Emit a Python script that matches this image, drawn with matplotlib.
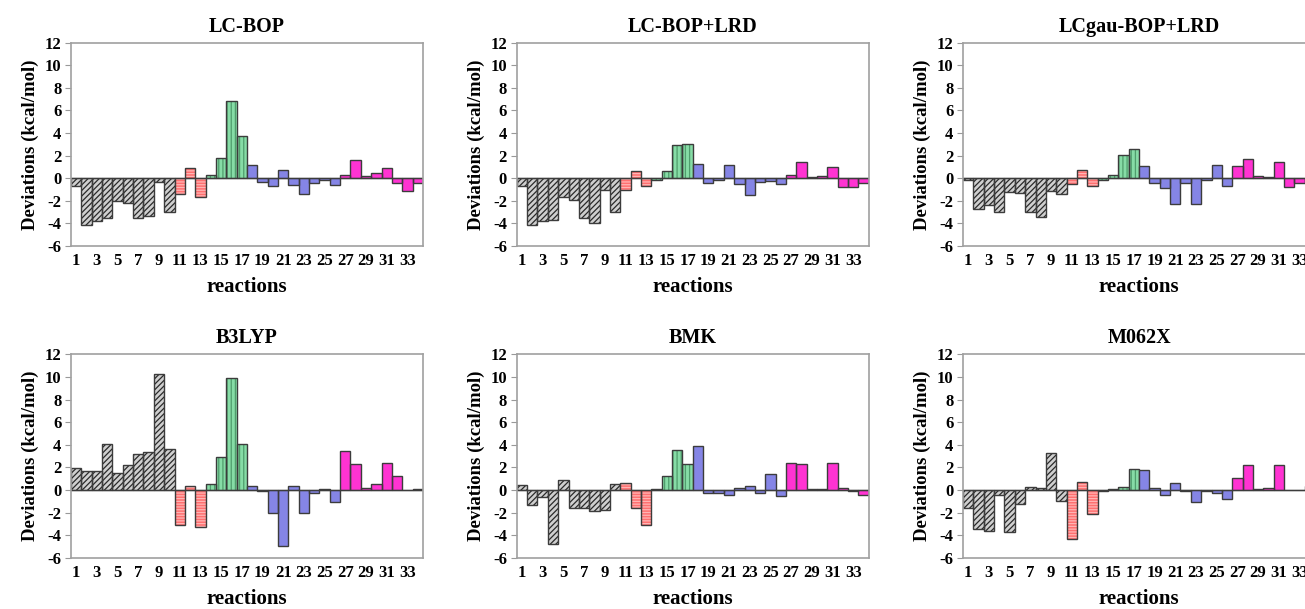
import numpy as np
import matplotlib
matplotlib.use('Agg')
import matplotlib.pyplot as plt

plt.rcParams['font.family'] = 'Liberation Serif'
plt.rcParams['font.weight'] = 'bold'
plt.rcParams['hatch.linewidth'] = 0.9
plt.rcParams['axes.unicode_minus'] = False

# reactions 1..34 and the class each one belongs to
reactions = np.arange(1, 35)
groups = ['g'] * 10 + ['r'] * 3 + ['e'] * 4 + ['b'] * 9 + ['m'] * 8

# deviations (kcal/mol)
lc_bop = [-0.7, -4.1, -3.8, -3.5, -2.0, -2.2, -3.5, -3.3, -0.3, -3.0,
          -1.4, 0.9, -1.7,
          0.3, 1.8, 6.8, 3.7,
          1.2, -0.3, -0.7, 0.7, -0.6, -1.4, -0.4, -0.2, -0.6,
          0.3, 1.6, 0.2, 0.5, 0.9, -0.4, -1.1, -0.4]
lc_bop_lrd = [-0.65, -4.1, -3.75, -3.7, -1.7, -1.9, -3.5, -4.0, -1.0, -2.95,
              -1.0, 0.65, -0.65,
              -0.15, 0.6, 2.9, 3.05,
              1.25, -0.45, -0.2, 1.2, -0.55, -1.45, -0.3, -0.25, -0.55,
              0.3, 1.4, 0.15, 0.2, 1.0, -0.75, -0.8, -0.45]
lcgau_bop_lrd = [-0.2, -2.7, -2.4, -3.0, -1.25, -1.3, -2.95, -3.45, -1.15, -1.4,
                 -0.55, 0.7, -0.65,
                 -0.15, 0.3, 2.1, 2.6,
                 1.05, -0.45, -0.85, -2.25, -0.45, -2.3, -0.2, 1.2, -0.7,
                 1.1, 1.7, 0.2, 0.1, 1.45, -0.8, -0.45, -0.3]
b3lyp = [1.95, 1.7, 1.7, 4.1, 1.5, 2.25, 3.2, 3.35, 10.25, 3.65,
         -3.1, 0.4, -3.3,
         0.55, 2.9, 9.95, 4.05,
         0.4, -0.05, -2.0, -4.95, 0.4, -2.05, -0.3, 0.05, -1.05,
         3.45, 2.3, 0.2, 0.5, 2.4, 1.25, 0.0, 0.05]
bmk = [0.45, -1.35, -0.65, -4.8, 0.9, -1.6, -1.6, -1.85, -1.8, 0.55,
       0.6, -1.55, -3.1,
       0.1, 1.25, 3.55, 2.3,
       3.9, -0.25, -0.25, -0.4, 0.15, 0.4, -0.3, 1.4, -0.5,
       2.35, 2.3, 0.05, 0.1, 2.4, 0.2, -0.1, -0.45]
m062x = [-1.55, -3.45, -3.6, -0.4, -3.7, -1.2, 0.3, 0.15, 3.25, -1.0,
         -4.3, 0.7, -2.1,
         -0.1, 0.1, 0.3, 1.85,
         1.8, 0.15, -0.4, 0.6, -0.1, -1.05, -0.1, -0.3, -0.75,
         1.05, 2.2, 0.1, 0.2, 2.2, 0.0, 0.0, 0.4]

titles = ['LC-BOP', 'LC-BOP+LRD', 'LCgau-BOP+LRD', 'B3LYP', 'BMK', 'M062X']
series = [lc_bop, lc_bop_lrd, lcgau_bop_lrd, b3lyp, bmk, m062x]

# fill colour, hatch pattern, hatch colour per class
style = {
    'g': ('#cfcfcf', '//////', '#2a2a2a'),
    'r': ('#ff7070', '------', '#ffb4b4'),
    'e': ('#86dca6', '||||', '#4f9d6c'),
    'b': ('#8585e6', '', '#8585e6'),
    'm': ('#ff33d2', '', '#ff33d2'),
}
edge = '#3c3c3c'

fig = plt.figure(figsize=(13.05, 6.09), dpi=100)

# the right column runs past the figure edge, as in the source image
lefts = [0.0544, 0.396, 0.738]
bottoms = [0.596, 0.084]
w, h = 0.2697, 0.334

for k, (title, vals) in enumerate(zip(titles, series)):
    ax = fig.add_axes([lefts[k % 3], bottoms[k // 3], w, h])
    vals = np.array(vals)
    for g in 'grebm':
        mask = np.array([x == g for x in groups])
        fc, hatch, hc = style[g]
        ax.bar(reactions[mask], vals[mask], width=1.0, color=fc,
               hatch=hatch, edgecolor=hc, linewidth=0)
        ax.bar(reactions[mask], vals[mask], width=1.0, fill=False,
               edgecolor=edge, linewidth=1.0)
    ax.axhline(0, color=edge, linewidth=0.9)
    ax.set_xlim(0.5, 34.5)
    ax.set_ylim(-6, 12)
    ax.set_yticks(range(-6, 13, 2))
    ax.set_xticks(range(1, 34, 2))
    ax.tick_params(axis='x', length=0, labelsize=12, pad=5)
    ax.tick_params(axis='y', length=4, color='#999999', labelsize=12, pad=3)
    for s in ax.spines.values():
        s.set_color('#a0a0a0')
        s.set_linewidth(1.2)
    ax.set_title(title, fontsize=14.5, fontweight='bold', pad=8)
    ax.set_xlabel('reactions', fontsize=15, fontweight='bold', labelpad=6)
    ax.set_ylabel('Deviations (kcal/mol)', fontsize=13.5, fontweight='bold',
                  labelpad=4)

fig.savefig('out.png', dpi=100)
